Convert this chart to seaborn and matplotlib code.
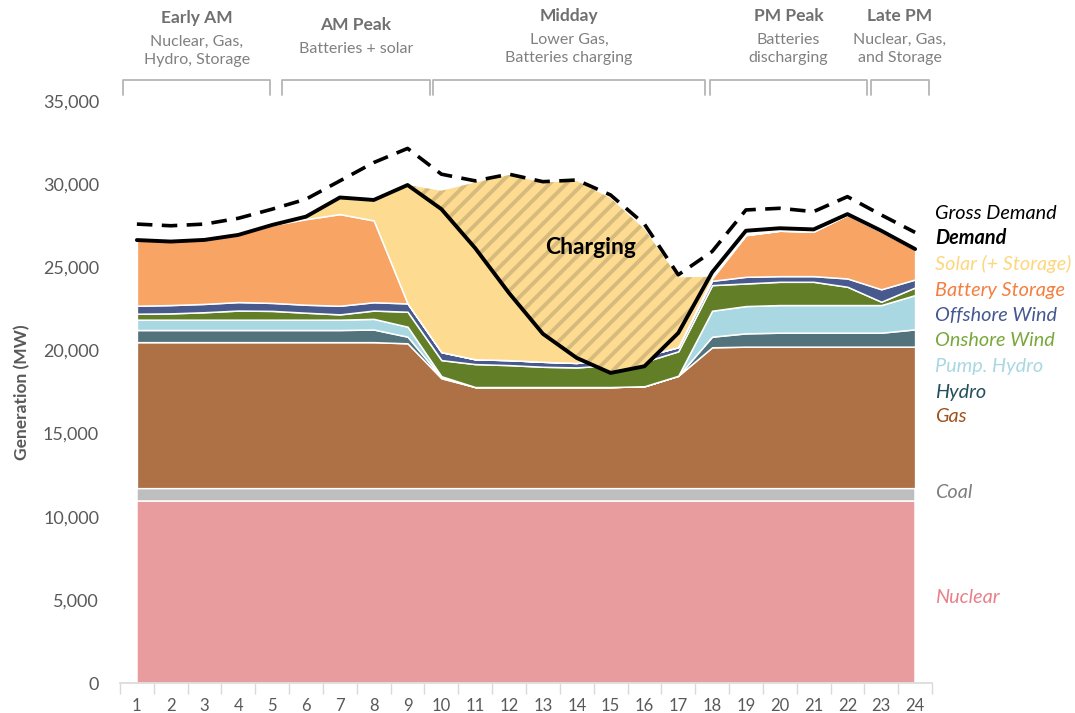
import numpy as np
import pandas as pd
import matplotlib
matplotlib.use("Agg")
import matplotlib.pyplot as plt
import seaborn as sns
from matplotlib.ticker import FuncFormatter, MultipleLocator

sns.set_theme(style="white")
plt.rcParams["font.family"] = ["Lato", "DejaVu Sans"]
plt.rcParams["hatch.linewidth"] = 2.8

hours = list(range(1, 25))

# generation by source (MW)
nuclear = [10950] * 24
coal = [770] * 24
gas = [8780, 8780, 8780, 8780, 8780, 8780, 8780, 8780, 8710, 6610, 6080, 6080,
       6080, 6080, 6080, 6130, 6760, 8470, 8510, 8510, 8510, 8510, 8510, 8510]
hydro = [730, 730, 730, 730, 730, 730, 730, 760, 400, 60, 0, 0,
         0, 0, 0, 0, 0, 640, 800, 840, 840, 840, 840, 1040]
pump_hydro = [620, 620, 620, 620, 620, 620, 620, 640, 600, 60, 0, 0,
              0, 0, 0, 0, 0, 1560, 1640, 1660, 1660, 1660, 1660, 2060]
onshore = [360, 380, 450, 550, 530, 420, 320, 500, 900, 970, 1380, 1320,
           1220, 1180, 1320, 1470, 1470, 1540, 1360, 1400, 1400, 1100, 200, 460]
offshore = [480, 500, 500, 510, 480, 480, 520, 500, 500, 480, 290, 300,
            300, 270, 410, 340, 250, 260, 400, 340, 340, 500, 750, 480]
battery = [3950, 3870, 3900, 4030, 4680, 5150, 5510, 4920, 0, 0, 0, 0,
           0, 0, 0, 0, 0, 150, 2510, 2730, 2680, 3820, 3460, 1790]
solar = [0, 0, 0, 0, 50, 150, 1000, 1200, 7120, 9700, 10630, 11130,
         10780, 10950, 9620, 7640, 4200, 90, 0, 0, 0, 0, 0, 0]

demand = [26640, 26550, 26650, 26950, 27550, 28050, 29200, 29050, 29950, 28500, 26150, 23450,
          21000, 19550, 18650, 19050, 21050, 24700, 27200, 27350, 27280, 28200, 27200, 26100]
gross_demand = [27600, 27500, 27600, 27950, 28500, 29100, 30200, 31300, 32150, 30600, 30200, 30600,
                30150, 30250, 29350, 27600, 24550, 25950, 28450, 28550, 28350, 29250, 28150, 27100]

sources = ["Nuclear", "Coal", "Gas", "Hydro", "Pump. Hydro", "Onshore Wind",
           "Offshore Wind", "Battery Storage", "Solar (+ Storage)"]
fill_colors = ["#e89c9e", "#bebebe", "#ae7045", "#52737b", "#a9d8e2",
               "#627f28", "#48598e", "#f8a465", "#fddc91"]

periods = ["Early AM", "AM Peak", "Midday", "PM Peak", "Late PM"]
period_notes = ["Nuclear, Gas,\nHydro, Storage", "Batteries + solar",
                "Lower Gas,\nBatteries charging", "Batteries\ndischarging",
                "Nuclear, Gas,\nand Storage"]
period_spans = [(0.6, 4.93), (5.29, 9.66), (9.75, 17.79), (17.94, 22.58), (22.7, 24.41)]

df = pd.DataFrame({"hour": hours, "demand": demand, "gross": gross_demand})
stack = np.array([nuclear, coal, gas, hydro, pump_hydro, onshore, offshore, battery, solar])
total = stack.sum(axis=0)

fig = plt.figure(figsize=(10.75, 7.13), dpi=100)
ax = fig.add_axes([0.1116, 0.042, 0.7554, 0.8163])

ax.stackplot(hours, stack, colors=fill_colors, edgecolor="white", linewidth=1.1)

# solar beyond demand goes to charging
ax.fill_between(hours, df["demand"], total, where=total >= df["demand"], interpolate=True,
                facecolor="#fddc91", edgecolor="#d6bb7c", hatch="//", linewidth=0)

sns.lineplot(data=df, x="hour", y="gross", ax=ax, color="black", linewidth=2.6,
             dashes=False, linestyle=(0, (4.3, 2.6)))
sns.lineplot(data=df, x="hour", y="demand", ax=ax, color="black", linewidth=2.8)

ax.text(14.4, 26200, "Charging", ha="center", va="center", fontsize=16.5,
        fontweight="bold", color="black")

ax.set_xlim(0.5, 24.5)
ax.set_ylim(0, 35000)
ax.yaxis.set_major_locator(MultipleLocator(5000))
ax.yaxis.set_major_formatter(FuncFormatter(lambda v, p: f"{int(v):,}"))
ax.set_xticks(hours)
ax.set_xticks(np.arange(0.5, 25, 1), minor=True)
ax.tick_params(axis="y", length=0, pad=15, labelsize=13, labelcolor="#595959")
ax.tick_params(axis="x", which="major", length=0, pad=11, labelsize=12, labelcolor="#595959")
ax.tick_params(axis="x", which="minor", length=8, width=1, color="#d9d9d9", bottom=True)
for s in ["top", "right", "left"]:
    ax.spines[s].set_visible(False)
ax.spines["bottom"].set_color("#d9d9d9")
ax.spines["bottom"].set_linewidth(1.2)
ax.set_xlabel("")
ax.set_ylabel("Generation (MW)", fontsize=12.5, fontweight="bold", color="#595959", labelpad=9)
ax.grid(False)

# right side labels
right_labels = ["Gross Demand", "Demand", "Solar (+ Storage)", "Battery Storage", "Offshore Wind",
                "Onshore Wind", "Pump. Hydro", "Hydro", "Gas", "Coal", "Nuclear"]
right_y = [28260, 26760, 25200, 23630, 22130, 20570, 19060, 17500, 16000, 11430, 5170]
right_colors = ["black", "black", "#fdd77e", "#f47f3f", "#45588f", "#79a83a",
                "#a9d8e2", "#23505a", "#a0521d", "#7f7f7f", "#e8808a"]
for lab, yv, c in zip(right_labels, right_y, right_colors):
    ax.text(24.6, yv, lab, ha="left", va="center", fontsize=14.3, style="italic", color=c,
            fontweight="bold" if lab == "Demand" else "normal", clip_on=False)

# period brackets and notes above the plot
title_y = [695, 688, 697, 697, 697]
for name, note, (x0, x1), ty in zip(periods, period_notes, period_spans, title_y):
    ax.plot([x0, x0, x1, x1], [35360, 36260, 36260, 35360], color="#b5b5b5",
            linewidth=1.3, clip_on=False, solid_joinstyle="round")
    xc = (x0 + x1) / 2
    ax.annotate(name, (xc, ty), xycoords=("data", "figure pixels"), ha="center", va="center",
                fontsize=12.5, fontweight="bold", color="#707070", annotation_clip=False)
    ax.annotate(note, (xc, ty - 17), xycoords=("data", "figure pixels"), ha="center", va="top",
                fontsize=11.5, color="#808080", linespacing=1.36, annotation_clip=False)

fig.savefig("out.png", dpi=100)
